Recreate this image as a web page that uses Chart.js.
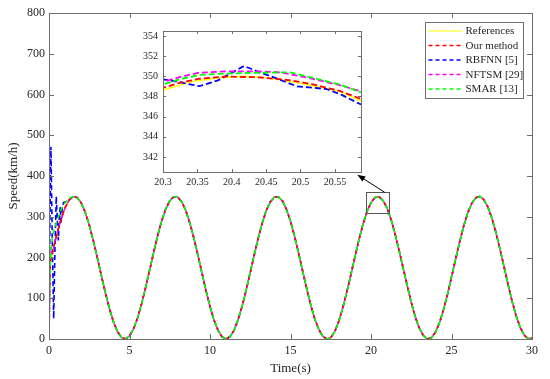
<!DOCTYPE html>
<html>
<head>
<meta charset="utf-8">
<script src="https://cdn.jsdelivr.net/npm/chart.js@4.4.1/dist/chart.umd.min.js"></script>
<style>
  body { margin: 0; background: #fff; }
  #wrap { position: relative; width: 550px; height: 379px; }
  #main { position: absolute; left: 0; top: 0; }
  #inset { position: absolute; left: 130px; top: 20px; }
</style>
</head>
<body>
<div id="wrap">
  <canvas id="main" width="550" height="379"></canvas>
  <canvas id="inset" width="240" height="170"></canvas>
</div>
<script>
// reference speed, sampled every 0.25 s from 0 to 30 s
var tStep = 0.25;
var refSpeed = [
  175, 218.3, 258.9, 294.3, 322.3, 341.1, 349.6, 347.2, 334.1, 311.2,
  279.7, 241.8, 199.7, 156.1, 113.6, 75.0, 42.6, 18.4, 3.9, 0.1,
  7.2, 24.7, 51.5, 86.0, 126.1, 169.2, 212.6, 253.8, 290.0, 319.2,
  339.2, 349.1, 348.1, 336.5, 314.7, 284.3, 247.1, 205.5, 161.8, 119.1,
  79.8, 46.2, 21.1, 5.2, 0.0, 6.0, 21.8, 48.2, 81.1, 120.7,
  163.4, 207.0, 248.5, 285.4, 315.7, 336.9, 348.4, 348.8, 338.6, 318.1,
  288.8, 252.4, 211.1, 167.5, 124.6, 84.8, 50.3, 23.9, 6.8, 0.0,
  3.2, 18.1, 43.6, 76.7, 115.8, 158.0, 201.2, 243.5, 281.0, 312.4,
  334.8, 347.1, 349.4, 339.7, 321.4, 292.9, 257.2, 216.2, 173.4, 130.8,
  89.7, 54.3, 26.9, 8.5, 0.2, 2.7, 16.5, 39.4, 71.4, 109.4,
  151.8, 195.2, 237.6, 275.9, 308.5, 332.4, 346.4, 349.7, 342.4, 324.7,
  297.7, 263.0, 222.4, 179.6, 136.2, 94.7, 58.9, 30.2, 10.4, 0.8,
  2.1
];
var refTime = refSpeed.map(function (_, i) { return i * tStep; });

// start-up transients (then each controller follows the reference)
var ourHeadT = [0, 0.05, 0.1];
var ourHeadV = [0, 170, 192];
var rbfHeadT = [0, 0.06, 0.12, 0.2, 0.29, 0.37, 0.45, 0.52, 0.58, 0.65, 0.7, 0.75, 0.82, 0.9, 0.99, 1.1, 1.25];
var rbfHeadV = [0, 300, 472, 250, 50, 220, 350, 290, 242, 300, 324, 284, 320, 335, 336, 338, 341];
var nftHeadT = [0, 0.08, 0.16];
var nftHeadV = [0, 205, 215];
var smarHeadT = [0, 0.06, 0.12, 0.22, 0.33, 0.54, 0.74, 0.95, 1.26];
var smarHeadV = [0, 160, 218, 250, 270, 295, 316, 332, 345];

// zoomed window around t = 20.4 s
var inRefT = [20.3, 20.344, 20.382, 20.416, 20.448, 20.5, 20.557, 20.588];
var inRefV = [348.64, 349.5, 349.86, 350.0, 349.9, 349.3, 348.5, 347.55];
var inOurT = [20.3, 20.324, 20.353, 20.392, 20.44, 20.486, 20.518, 20.557, 20.588];
var inOurV = [348.87, 349.35, 349.76, 349.98, 349.9, 349.6, 349.2, 348.55, 347.75];
var inRbfT = [20.3, 20.318, 20.353, 20.38, 20.418, 20.44, 20.465, 20.495, 20.538, 20.56, 20.588];
var inRbfV = [349.7, 349.5, 349.02, 349.6, 351.03, 350.4, 349.8, 349.0, 348.74, 348.16, 347.2];
var inNftT = [20.3, 20.324, 20.35, 20.39, 20.44, 20.47, 20.513, 20.557, 20.588];
var inNftV = [349.44, 349.92, 350.33, 350.5, 350.5, 350.4, 349.83, 349.12, 348.5];
var inSmarT = [20.3, 20.324, 20.353, 20.38, 20.42, 20.485, 20.513, 20.557, 20.588];
var inSmarV = [349.19, 349.7, 350.14, 350.24, 350.33, 350.4, 349.92, 349.19, 348.4];

var seriesNames = ['References', 'Our method', 'RBFNN [5]', 'NFTSM [29]', 'SMAR [13]'];
var seriesColors = ['#ffff00', '#ff0000', '#0000ff', '#ff00ff', '#00ff00'];

var xTicksInset = [20.3, 20.35, 20.4, 20.45, 20.5, 20.55];
var yTicksInset = [342, 344, 346, 348, 350, 352, 354];

// zoom rectangle and arrow, in data units of the main axes
var zoomBox = { t0: 19.7, t1: 21.1, v0: 308, v1: 360 };
var arrowFrom = [20.85, 360];
var arrowTo = [19.15, 403];

var axisColor = '#6e6e6e';
var textColor = '#262626';
var serif = '"Liberation Serif", "DejaVu Serif", serif';

function pts(t, v) {
  return t.map(function (x, i) { return { x: x, y: v[i] }; });
}
function withHead(headT, headV, fromIdx) {
  return pts(headT, headV).concat(pts(refTime.slice(fromIdx), refSpeed.slice(fromIdx)));
}

function makeSets(data, dash, widths) {
  var order = [4, 1, 3, 2, 0];
  var offs = [0, 3, 1, 5, 7];
  return data.map(function (d, i) {
    return {
      label: seriesNames[i],
      data: d,
      borderColor: seriesColors[i],
      borderWidth: i === 0 ? widths[0] : widths[1],
      borderDash: i === 0 ? [] : dash,
      borderDashOffset: offs[i],
      pointRadius: 0,
      tension: 0,
      fill: false,
      order: order[i]
    };
  });
}

// axes box with inward ticks (matlab style)
function drawBox(chart, len) {
  var ctx = chart.ctx, a = chart.chartArea, x = chart.scales.x, y = chart.scales.y;
  ctx.save();
  ctx.strokeStyle = axisColor;
  ctx.lineWidth = 1;
  ctx.strokeRect(Math.round(a.left) + 0.5, Math.round(a.top) + 0.5,
    Math.round(a.right - a.left), Math.round(a.bottom - a.top));
  ctx.beginPath();
  x.ticks.forEach(function (t) {
    var px = Math.round(x.getPixelForValue(t.value)) + 0.5;
    ctx.moveTo(px, a.bottom); ctx.lineTo(px, a.bottom - len);
    ctx.moveTo(px, a.top); ctx.lineTo(px, a.top + len);
  });
  y.ticks.forEach(function (t) {
    var py = Math.round(y.getPixelForValue(t.value)) + 0.5;
    ctx.moveTo(a.left, py); ctx.lineTo(a.left + len, py);
    ctx.moveTo(a.right, py); ctx.lineTo(a.right - len, py);
  });
  ctx.stroke();
  ctx.restore();
}

var mainDecor = {
  id: 'mainDecor',
  afterDraw: function (chart) {
    var ctx = chart.ctx, a = chart.chartArea, x = chart.scales.x, y = chart.scales.y;
    drawBox(chart, 5);

    // zoom rectangle
    ctx.save();
    ctx.strokeStyle = '#555';
    ctx.lineWidth = 1;
    var bx0 = Math.round(x.getPixelForValue(zoomBox.t0)) + 0.5;
    var bx1 = Math.round(x.getPixelForValue(zoomBox.t1)) + 0.5;
    var by0 = Math.round(y.getPixelForValue(zoomBox.v1)) + 0.5;
    var by1 = Math.round(y.getPixelForValue(zoomBox.v0)) + 0.5;
    ctx.strokeRect(bx0, by0, bx1 - bx0, by1 - by0);

    // arrow
    var ax0 = x.getPixelForValue(arrowFrom[0]), ay0 = y.getPixelForValue(arrowFrom[1]);
    var ax1 = x.getPixelForValue(arrowTo[0]), ay1 = y.getPixelForValue(arrowTo[1]);
    var ang = Math.atan2(ay1 - ay0, ax1 - ax0);
    ctx.strokeStyle = '#000';
    ctx.fillStyle = '#000';
    ctx.beginPath();
    ctx.moveTo(ax0, ay0);
    ctx.lineTo(ax1 - 6 * Math.cos(ang), ay1 - 6 * Math.sin(ang));
    ctx.stroke();
    ctx.beginPath();
    ctx.moveTo(ax1, ay1);
    ctx.lineTo(ax1 - 8 * Math.cos(ang) + 3 * Math.sin(ang), ay1 - 8 * Math.sin(ang) - 3 * Math.cos(ang));
    ctx.lineTo(ax1 - 8 * Math.cos(ang) - 3 * Math.sin(ang), ay1 - 8 * Math.sin(ang) + 3 * Math.cos(ang));
    ctx.closePath();
    ctx.fill();

    // legend box in the upper right corner
    var lw = 98, lh = 76;
    var lx = Math.round(a.right - 9 - lw) + 0.5, ly = Math.round(a.top + 9) + 0.5;
    ctx.fillStyle = '#fff';
    ctx.fillRect(lx, ly, lw, lh);
    ctx.strokeStyle = axisColor;
    ctx.strokeRect(lx, ly, lw, lh);
    ctx.font = '11px ' + serif;
    ctx.textBaseline = 'middle';
    seriesNames.forEach(function (name, i) {
      var ry = ly + 8.5 + i * 14.5;
      ctx.strokeStyle = seriesColors[i];
      ctx.lineWidth = i === 0 ? 1.2 : 1.6;
      ctx.setLineDash(i === 0 ? [] : [4, 3]);
      ctx.beginPath();
      ctx.moveTo(lx + 3, ry);
      ctx.lineTo(lx + 37, ry);
      ctx.stroke();
      ctx.setLineDash([]);
      ctx.fillStyle = textColor;
      ctx.fillText(name, lx + 40, ry + 0.5);
    });
    ctx.restore();
  }
};

var insetDecor = {
  id: 'insetDecor',
  beforeDraw: function (chart) {
    var ctx = chart.ctx, a = chart.chartArea;
    ctx.save();
    ctx.fillStyle = '#fff';
    ctx.fillRect(a.left, a.top, a.right - a.left, a.bottom - a.top);
    ctx.restore();
  },
  afterDraw: function (chart) { drawBox(chart, 3); }
};

new Chart(document.getElementById('main'), {
  type: 'line',
  data: {
    datasets: makeSets([
      pts(refTime, refSpeed),
      withHead(ourHeadT, ourHeadV, 1),
      withHead(rbfHeadT, rbfHeadV, 6),
      withHead(nftHeadT, nftHeadV, 1),
      withHead(smarHeadT, smarHeadV, 6)
    ], [5, 3], [1.2, 1.6])
  },
  options: {
    responsive: false,
    animation: false,
    devicePixelRatio: 1,
    layout: { padding: { top: 13, right: 18, left: 0, bottom: 0 } },
    plugins: { legend: { display: false }, tooltip: { enabled: false } },
    scales: {
      x: {
        type: 'linear', min: 0, max: 30,
        afterFit: function (s) { s.height = 40; },
        ticks: { stepSize: 5, padding: 5, color: textColor, font: { family: serif, size: 12 }, maxRotation: 0 },
        grid: { display: false, drawTicks: false },
        border: { display: false },
        title: { display: true, text: 'Time(s)', color: textColor, font: { family: serif, size: 13 }, padding: { top: 0, bottom: 3 } }
      },
      y: {
        type: 'linear', min: 0, max: 800,
        afterFit: function (s) { s.width = 49; },
        ticks: { stepSize: 100, padding: 4, color: textColor, font: { family: serif, size: 12 } },
        grid: { display: false, drawTicks: false },
        border: { display: false },
        title: { display: true, text: 'Speed(km/h)', color: textColor, font: { family: serif, size: 13 }, padding: { top: 6, bottom: 0 } }
      }
    }
  },
  plugins: [mainDecor]
});

new Chart(document.getElementById('inset'), {
  type: 'line',
  data: {
    datasets: makeSets([
      pts(inRefT, inRefV),
      pts(inOurT, inOurV),
      pts(inRbfT, inRbfV),
      pts(inNftT, inNftV),
      pts(inSmarT, inSmarV)
    ], [6, 3], [1.4, 1.8])
  },
  options: {
    responsive: false,
    animation: false,
    devicePixelRatio: 1,
    layout: { padding: { top: 5, right: 9, left: 0, bottom: 0 } },
    plugins: { legend: { display: false }, tooltip: { enabled: false } },
    scales: {
      x: {
        type: 'linear', min: 20.3, max: 20.588,
        afterFit: function (s) { s.height = 18; },
        afterBuildTicks: function (s) { s.ticks = xTicksInset.map(function (v) { return { value: v }; }); },
        ticks: {
          padding: 4, color: textColor, font: { family: serif, size: 10 }, maxRotation: 0, autoSkip: false,
          callback: function (v) { return String(Number(v.toFixed(2))); }
        },
        grid: { display: false, drawTicks: false },
        border: { display: false }
      },
      y: {
        type: 'linear', min: 340.5, max: 354.5,
        afterFit: function (s) { s.width = 33; },
        afterBuildTicks: function (s) { s.ticks = yTicksInset.map(function (v) { return { value: v }; }); },
        ticks: { padding: 5, color: textColor, font: { family: serif, size: 10 }, autoSkip: false },
        grid: { display: false, drawTicks: false },
        border: { display: false }
      }
    }
  },
  plugins: [insetDecor]
});
</script>
</body>
</html>
